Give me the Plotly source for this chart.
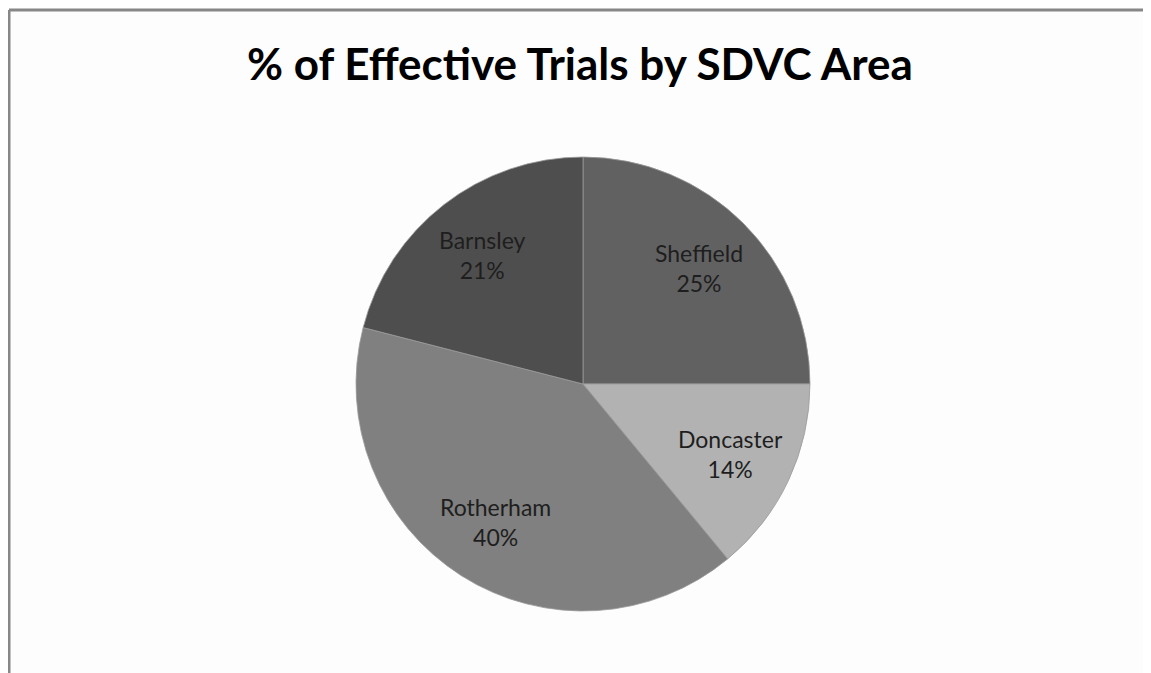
import math
import plotly.graph_objects as go

areas = ["Sheffield", "Doncaster", "Rotherham", "Barnsley"]
percent_values = [25, 14, 40, 21]
slice_colors = ["#616161", "#b2b2b2", "#808080", "#4e4e4e"]

# page has an 8px body margin, so figure is drawn 8px smaller and shifted
W, H = 1143, 665
cx, cy, r = 575, 376, 227

fig = go.Figure(go.Pie(
    labels=areas,
    values=percent_values,
    sort=False,
    direction="clockwise",
    rotation=0,
    marker=dict(colors=slice_colors, line=dict(color="#9a9a9a", width=0.8)),
    textinfo="none",
    showlegend=False,
    hoverinfo="label+percent",
    domain=dict(x=[(cx - r) / W, (cx + r) / W], y=[(H - cy - r) / H, (H - cy + r) / H]),
))

# labels placed along each slice's mid-angle (derived from the values)
total = sum(percent_values)
annotations = []
cum = 0
for name, v in zip(areas, percent_values):
    mid = (cum + v / 2) / total * 2 * math.pi
    cum += v
    rad = 0.72 * r
    px = cx + rad * math.sin(mid)
    py = cy - rad * math.cos(mid)
    annotations.append(dict(
        x=px / W, y=1 - py / H, xref="paper", yref="paper",
        xanchor="center", yanchor="middle",
        text=f"{name}<br>{v}%", showarrow=False, align="center",
        font=dict(family="Lato", size=23, color="#1e1e1e"),
    ))

fig.update_layout(
    width=W, height=H,
    margin=dict(l=0, r=0, t=0, b=0),
    paper_bgcolor="#fdfdfd",
    title=dict(text="<b>% of Effective Trials by SDVC Area</b>", x=572 / W, xanchor="center",
               y=1 - 57 / H, yanchor="middle",
               font=dict(family="Lato", size=44, color="#000000")),
    annotations=annotations,
    shapes=[
        dict(type="line", xref="paper", yref="paper", x0=1 / W, x1=1.0, y0=1 - 2 / H, y1=1 - 2 / H,
             line=dict(color="#878787", width=3)),
        dict(type="line", xref="paper", yref="paper", x0=1 / W, x1=1 / W, y0=1 - 2 / H, y1=0,
             line=dict(color="#878787", width=3)),
    ],
)

fig.write_html("out.html")
